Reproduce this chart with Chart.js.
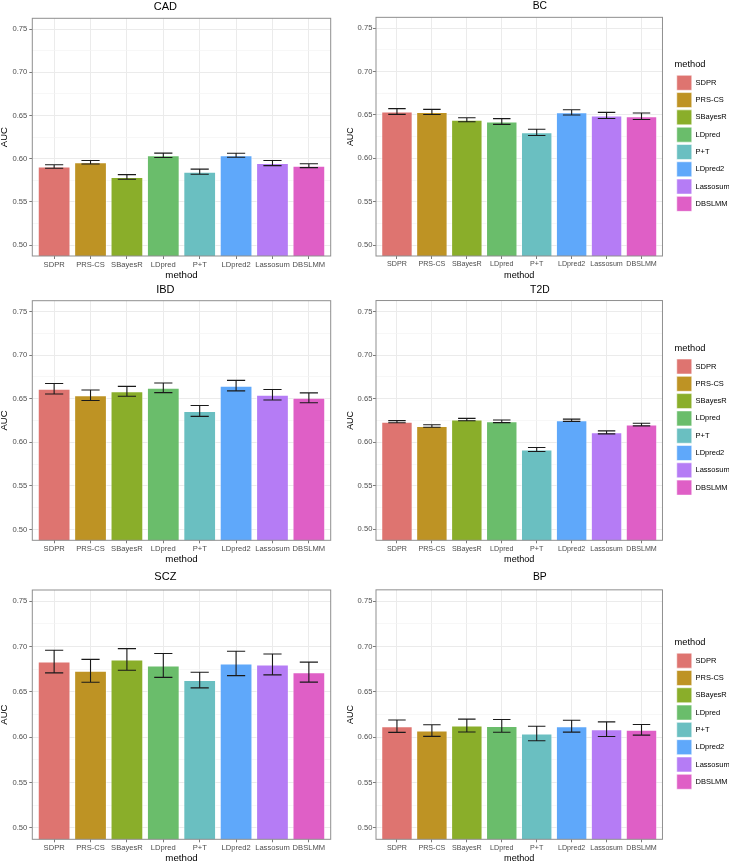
<!DOCTYPE html>
<html>
<head>
<meta charset="utf-8">
<script src="https://cdn.jsdelivr.net/npm/chart.js@4.4.1/dist/chart.umd.min.js"></script>
<style>
  html, body { margin: 0; padding: 0; background: #fff; overflow: hidden; }
  body { position: relative; width: 729px; height: 863px; }
  canvas { position: absolute; }
</style>
</head>
<body>
<canvas id="cad"></canvas>
<canvas id="bc"></canvas>
<canvas id="ibd"></canvas>
<canvas id="t2d"></canvas>
<canvas id="scz"></canvas>
<canvas id="bp"></canvas>
<script>
// methods on the x axis, same order in every panel
const methods = ['SDPR', 'PRS-CS', 'SBayesR', 'LDpred', 'P+T', 'LDpred2', 'Lassosum', 'DBSLMM'];
const methodColors = ['#DE7470', '#BE9324', '#8AAE2A', '#6ABD6B', '#6ABFC1', '#5FA8FA', '#B57CF5', '#DF5FC6'];

// AUC (bar height) and half width of the error bar
const cadAuc = [0.591, 0.596, 0.579, 0.604, 0.585, 0.604, 0.595, 0.592];
const cadErr = [0.002, 0.002, 0.0027, 0.0025, 0.003, 0.0023, 0.003, 0.0023];
const bcAuc = [0.654, 0.6535, 0.6445, 0.6425, 0.630, 0.653, 0.6495, 0.6485];
const bcErr = [0.0033, 0.003, 0.0023, 0.0033, 0.0036, 0.003, 0.0035, 0.0038];
const ibdAuc = [0.6615, 0.654, 0.6585, 0.6625, 0.636, 0.665, 0.6545, 0.651];
const ibdErr = [0.006, 0.006, 0.0057, 0.0055, 0.0063, 0.006, 0.006, 0.0057];
const t2dAuc = [0.6236, 0.6186, 0.626, 0.624, 0.5916, 0.6252, 0.6113, 0.6202];
const t2dErr = [0.0012, 0.0015, 0.0013, 0.0015, 0.0023, 0.0013, 0.0017, 0.0015];
const sczAuc = [0.6836, 0.6734, 0.6859, 0.6793, 0.6631, 0.6815, 0.6804, 0.6719];
const sczErr = [0.0125, 0.0126, 0.0119, 0.0132, 0.0086, 0.0134, 0.0115, 0.011];
const bpAuc = [0.6122, 0.6074, 0.6129, 0.6125, 0.6041, 0.6122, 0.6089, 0.6082];
const bpErr = [0.0068, 0.0064, 0.0071, 0.007, 0.008, 0.0066, 0.008, 0.0059];

// y axis: labelled breaks and the minor breaks between them
const yTickValues = [0.5, 0.525, 0.55, 0.575, 0.6, 0.625, 0.65, 0.675, 0.7, 0.725, 0.75];
const yMin = 0.4875, yMax = 0.7625;

Chart.defaults.font.family = '"Liberation Sans", Arial, Helvetica, sans-serif';

const tickGrey = '#4d4d4d';

// error bars + panel border, drawn with the chart's own scales
const errorBars = {
  id: 'errorBars',
  afterDatasetsDraw(chart, args, opts) {
    const {ctx, chartArea: a, scales: {x, y}} = chart;
    const meta = chart.getDatasetMeta(0);
    const values = chart.data.datasets[0].data;
    const half = x.getPixelForValue(1.25) - x.getPixelForValue(1);
    ctx.save();
    ctx.strokeStyle = '#1a1a1a';
    ctx.lineWidth = 1.1;
    meta.data.forEach((bar, i) => {
      const v = values[i].y;
      const hi = y.getPixelForValue(v + opts.errors[i]);
      const lo = y.getPixelForValue(v - opts.errors[i]);
      ctx.beginPath();
      ctx.moveTo(bar.x - half, hi); ctx.lineTo(bar.x + half, hi);
      ctx.moveTo(bar.x, hi); ctx.lineTo(bar.x, lo);
      ctx.moveTo(bar.x - half, lo); ctx.lineTo(bar.x + half, lo);
      ctx.stroke();
    });
    ctx.strokeStyle = '#8f8f8f';
    ctx.lineWidth = 1;
    ctx.strokeRect(a.left, a.top, a.width, a.height);
    ctx.restore();
  }
};

// canvas placement and spacing for each panel (fs = font scale)
const panels = [
  {id: 'cad', title: 'CAD', auc: cadAuc, err: cadErr, left: 0,   top: 0,   w: 340, h: 285, legend: false, fs: 1,    yW: 32.3, yTickPad: 2,   yTitlePad: 0,   tTop: 1,   tBot: 6.3, xH: 29,   xTitlePad: 4.6, padR: 9.3},
  {id: 'bc',  title: 'BC',  auc: bcAuc,  err: bcErr,  left: 340, top: 0,   w: 405, h: 285, legend: true,  fs: 0.94, yW: 36,   yTickPad: 0.6, yTitlePad: 5.8, tTop: 0.6, tBot: 6.4, xH: 29,   xTitlePad: 4.6, padR: 5.3},
  {id: 'ibd', title: 'IBD', auc: ibdAuc, err: ibdErr, left: 0,   top: 283, w: 340, h: 288, legend: false, fs: 1,    yW: 32.3, yTickPad: 2,   yTitlePad: 0,   tTop: 1.5, tBot: 5.2, xH: 30.7, xTitlePad: 7.1, padR: 9.3},
  {id: 't2d', title: 'T2D', auc: t2dAuc, err: t2dErr, left: 340, top: 283, w: 405, h: 288, legend: true,  fs: 0.94, yW: 36,   yTickPad: 0.6, yTitlePad: 5.8, tTop: 1.8, tBot: 5.4, xH: 30.7, xTitlePad: 7.1, padR: 5.3},
  {id: 'scz', title: 'SCZ', auc: sczAuc, err: sczErr, left: 0,   top: 571, w: 340, h: 292, legend: false, fs: 1,    yW: 32.3, yTickPad: 2,   yTitlePad: 0,   tTop: 0.5, tBot: 7.5, xH: 23.7, xTitlePad: 0.2, padR: 9.3},
  {id: 'bp',  title: 'BP',  auc: bpAuc,  err: bpErr,  left: 340, top: 571, w: 405, h: 292, legend: true,  fs: 0.94, yW: 36,   yTickPad: 0.6, yTitlePad: 5.8, tTop: 0.8, tBot: 7.7, xH: 23.7, xTitlePad: 0.2, padR: 5.3}
];

panels.forEach(p => {
  const canvas = document.getElementById(p.id);
  canvas.width = p.w;
  canvas.height = p.h;
  canvas.style.left = p.left + 'px';
  canvas.style.top = p.top + 'px';
  canvas.style.width = p.w + 'px';
  canvas.style.height = p.h + 'px';

  const scales = {
    x: {
      type: 'linear',
      min: 0.4,
      max: 8.6,
      offset: false,
      afterBuildTicks: s => { s.ticks = methods.map((m, i) => ({value: i + 1})); },
      afterFit: s => { s.height = p.xH; },
      ticks: {
        callback: (v, i) => methods[i],
        autoSkip: false,
        maxRotation: 0,
        minRotation: 0,
        color: tickGrey,
        padding: 1,
        font: {size: 7.6 * p.fs}
      },
      grid: {color: '#ebebeb', lineWidth: 1, offset: false, tickColor: '#7a7a7a', tickLength: 3},
      border: {display: false},
      title: {display: true, text: 'method', color: '#000', font: {size: 9.7 * p.fs, lineHeight: 1}, padding: {top: 0, bottom: p.xTitlePad}}
    },
    y: {
      min: yMin,
      max: yMax,
      afterBuildTicks: s => { s.ticks = yTickValues.map(v => ({value: v})); },
      afterFit: s => { s.width = p.yW; },
      ticks: {
        callback: (v, i) => (i % 2 ? '' : v.toFixed(2)),
        autoSkip: false,
        color: tickGrey,
        padding: p.yTickPad,
        font: {size: 7.6}
      },
      grid: {
        color: c => (c.index % 2 ? '#f3f3f3' : '#ebebeb'),
        lineWidth: c => (c.index % 2 ? 0.7 : 1),
        tickColor: c => (c.index % 2 ? 'rgba(0,0,0,0)' : '#7a7a7a'),
        tickLength: 3
      },
      border: {display: false},
      title: {display: true, text: 'AUC', color: '#000', font: {size: 9.5 * p.fs, lineHeight: 1}, padding: {top: p.yTitlePad, bottom: 0}}
    }
  };
  if (p.legend) {
    // empty spacer between the panel and the legend
    scales.gap = {
      type: 'linear',
      position: 'right',
      display: true,
      grid: {display: false, drawTicks: false},
      ticks: {display: false},
      border: {display: false},
      afterFit: s => { s.width = 12; }
    };
  }

  new Chart(canvas, {
    type: 'bar',
    data: {
      datasets: [{
        label: 'AUC',
        data: p.auc.map((v, i) => ({x: i + 1, y: v})),
        backgroundColor: methodColors,
        borderColor: 'rgba(255,255,255,0.55)',
        borderWidth: 1,
        borderSkipped: false,
        barPercentage: 0.9,
        categoryPercentage: 1
      }]
    },
    options: {
      responsive: false,
      animation: false,
      devicePixelRatio: 1,
      layout: {padding: {left: 0, right: p.padR, top: 0, bottom: 0}},
      scales,
      plugins: {
        tooltip: {enabled: false},
        title: {
          display: true,
          text: p.title,
          color: '#000',
          font: {size: 11 * p.fs, weight: 'normal', lineHeight: 1},
          padding: {top: p.tTop, bottom: p.tBot}
        },
        legend: {
          display: p.legend,
          position: 'right',
          align: 'center',
          fullSize: false,
          title: {display: true, text: 'method', position: 'start', color: '#000', font: {size: 9.3, lineHeight: 1}, padding: {top: 0, bottom: 4}},
          labels: {
            boxWidth: 15,
            boxHeight: 15,
            padding: 2.3,
            color: '#1a1a1a',
            font: {size: 7.5},
            generateLabels: () => methods.map((m, i) => ({
              text: m,
              fillStyle: methodColors[i],
              strokeStyle: 'rgba(255,255,255,0.55)',
              lineWidth: 1,
              hidden: false,
              index: i
            }))
          }
        },
        errorBars: {errors: p.err}
      }
    },
    plugins: [errorBars]
  });
});
</script>
</body>
</html>
